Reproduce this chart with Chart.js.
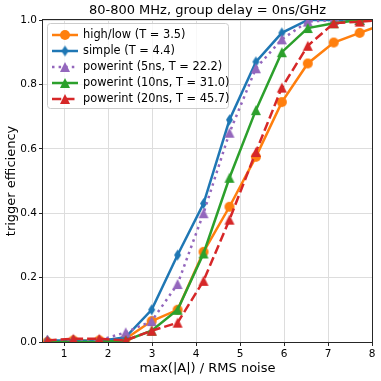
<!DOCTYPE html>
<html>
<head>
<meta charset="utf-8">
<script src="https://cdn.jsdelivr.net/npm/chart.js@4"></script>
<style>
  html, body { margin: 0; padding: 0; background: #fff; }
  #mainContentDivId { width: 381px; height: 381px; }
</style>
</head>
<body>
<div id="mainContentDivId"><canvas id="chartCanvasId" width="381" height="381"></canvas></div>
<script>
// x positions of the measurements (last one lies past the axis end)
const xValues = [0.62, 1.21, 1.80, 2.40, 2.99, 3.58, 4.17, 4.76, 5.36, 5.95, 6.54, 7.13, 7.72, 8.31];

const highLowValues    = [0.0, 0.005, 0.005, 0.01, 0.065, 0.10, 0.28, 0.42, 0.575, 0.745, 0.865, 0.93, 0.96, 0.99];
const simpleValues     = [0.005, 0.005, 0.003, 0.015, 0.10, 0.27, 0.43, 0.69, 0.87, 0.96, 1.0, 1.0, 1.0, 1.0];
const powerint5Values  = [0.005, 0.005, 0.005, 0.03, 0.065, 0.18, 0.40, 0.65, 0.85, 0.94, 0.995, 1.0, 1.0, 1.0];
const powerint10Values = [0.0, 0.0, 0.0, 0.005, 0.035, 0.10, 0.275, 0.51, 0.72, 0.90, 0.975, 0.99, 1.0, 1.0];
const powerint20Values = [0.005, 0.01, 0.01, 0.005, 0.035, 0.06, 0.19, 0.38, 0.59, 0.79, 0.92, 0.99, 0.995, 1.0];

const seriesLabels = [
    "high/low (T = 3.5)",
    "simple (T = 4.4)",
    "powerint (5ns, T = 22.2)",
    "powerint (10ns, T = 31.0)",
    "powerint (20ns, T = 45.7)"
];
const xTickValues = [1, 2, 3, 4, 5, 6, 7, 8];
const yTickValues = [0, 0.2, 0.4, 0.6, 0.8, 1.0];
const chartTitle = "80-800 MHz, group delay = 0ns/GHz";

const FONT = "'DejaVu Sans', sans-serif";

window.addEventListener("DOMContentLoaded", init);

function makeMarker(shape, color, w, h) {
    const c = document.createElement("canvas");
    c.width = w + 2;
    c.height = h + 2;
    const ctx = c.getContext("2d");
    const cx = c.width / 2, cy = c.height / 2;
    ctx.fillStyle = color;
    ctx.beginPath();
    if (shape === "circle") {
        ctx.arc(cx, cy, w / 2, 0, Math.PI * 2);
    } else if (shape === "diamond") {
        ctx.moveTo(cx, cy - h / 2);
        ctx.lineTo(cx + w / 2, cy);
        ctx.lineTo(cx, cy + h / 2);
        ctx.lineTo(cx - w / 2, cy);
    } else {
        ctx.moveTo(cx, cy - h / 2);
        ctx.lineTo(cx + w / 2, cy + h / 2);
        ctx.lineTo(cx - w / 2, cy + h / 2);
    }
    ctx.closePath();
    ctx.fill();
    return c;
}

function toPoints(values) {
    return xValues.map((x, i) => ({ x: x, y: values[i] }));
}

function init() {
    const chartCanvas = document.getElementById("chartCanvasId");

    const styles = [
        { color: "#ff7f0e", marker: makeMarker("circle", "#ff7f0e", 10, 10), dash: [] },
        { color: "#1f77b4", marker: makeMarker("diamond", "#1f77b4", 7, 11), dash: [] },
        { color: "#9467bd", marker: makeMarker("triangle", "#9467bd", 10, 10), dash: [2.5, 4.1] },
        { color: "#2ca02c", marker: makeMarker("triangle", "#2ca02c", 10, 10), dash: [] },
        { color: "#d62728", marker: makeMarker("triangle", "#d62728", 10, 10), dash: [9.25, 4] }
    ];
    const allValues = [highLowValues, simpleValues, powerint5Values, powerint10Values, powerint20Values];

    const datasets = allValues.map((vals, i) => ({
        label: seriesLabels[i],
        data: toPoints(vals),
        borderColor: styles[i].color,
        backgroundColor: styles[i].color,
        borderWidth: 2.5,
        borderDash: styles[i].dash,
        borderCapStyle: "butt",
        pointStyle: styles[i].marker,
        pointRadius: 5,
        pointHoverRadius: 5,
        tension: 0,
        clip: 0,
        order: allValues.length - i
    }));

    // spines + title centred over the axes, like matplotlib
    const framePlugin = {
        id: "frame",
        afterDatasetsDraw(chart) {
            const a = chart.chartArea;
            const ctx = chart.ctx;
            ctx.save();
            ctx.strokeStyle = "#262626";
            ctx.lineWidth = 1;
            ctx.strokeRect(Math.round(a.left) - 0.5, Math.round(a.top) - 0.5,
                Math.round(a.right - a.left) + 1, Math.round(a.bottom - a.top) + 1);
            ctx.fillStyle = "#000";
            ctx.font = "13px " + FONT;
            ctx.textAlign = "center";
            ctx.textBaseline = "middle";
            ctx.fillText(chartTitle, (a.left + a.right) / 2, 11);
            ctx.restore();
        }
    };

    const legendPlugin = {
        id: "mplLegend",
        afterDraw(chart) {
            const ctx = chart.ctx;
            ctx.save();
            ctx.beginPath();
            ctx.roundRect(47.5, 23.5, 181, 85, 3);
            ctx.fillStyle = "rgba(255,255,255,0.8)";
            ctx.fill();
            ctx.strokeStyle = "#cccccc";
            ctx.lineWidth = 1;
            ctx.stroke();
            ctx.font = "11.4px " + FONT;
            ctx.textBaseline = "middle";
            ctx.textAlign = "left";
            seriesLabels.forEach((label, i) => {
                const y = 35 + 16 * i;
                ctx.beginPath();
                ctx.setLineDash(styles[i].dash);
                ctx.strokeStyle = styles[i].color;
                ctx.lineWidth = 2.5;
                ctx.moveTo(52, y);
                ctx.lineTo(78, y);
                ctx.stroke();
                ctx.setLineDash([]);
                const m = styles[i].marker;
                ctx.drawImage(m, 65 - m.width / 2, y - m.height / 2);
                ctx.fillStyle = "#000";
                ctx.fillText(label, 83, y + 0.5);
            });
            ctx.restore();
        }
    };

    new Chart(chartCanvas, {
        type: "line",
        data: { datasets: datasets },
        plugins: [framePlugin, legendPlugin],
        options: {
            responsive: false,
            animation: false,
            devicePixelRatio: 1,
            layout: { padding: { top: 20, right: 9, left: 0, bottom: 0 } },
            plugins: {
                legend: { display: false },
                tooltip: { enabled: false },
                title: { display: false }
            },
            scales: {
                x: {
                    type: "linear",
                    min: 0.52,
                    max: 8,
                    afterBuildTicks: (scale) => { scale.ticks = xTickValues.map(v => ({ value: v })); },
                    afterFit: (scale) => { scale.height = 39; },
                    ticks: {
                        color: "#000",
                        font: { family: FONT, size: 10.5 },
                        padding: 2,
                        maxRotation: 0,
                        callback: (v) => String(v)
                    },
                    grid: { color: "#dddddd", lineWidth: 1, tickLength: 4, tickColor: "#262626" },
                    border: { display: false },
                    title: {
                        display: true,
                        text: "max(|A|) / RMS noise",
                        color: "#000",
                        font: { family: FONT, size: 13 },
                        padding: { top: 0, bottom: 5 }
                    }
                },
                y: {
                    min: 0,
                    max: 1,
                    afterBuildTicks: (scale) => { scale.ticks = yTickValues.map(v => ({ value: v })); },
                    afterFit: (scale) => { scale.width = 43; },
                    ticks: {
                        color: "#000",
                        font: { family: FONT, size: 10.5 },
                        padding: 2,
                        callback: (v) => Number(v).toFixed(1)
                    },
                    grid: { color: "#dddddd", lineWidth: 1, tickLength: 4, tickColor: "#262626" },
                    border: { display: false },
                    title: {
                        display: true,
                        text: "trigger efficiency",
                        color: "#000",
                        font: { family: FONT, size: 13 },
                        padding: { top: 4, bottom: 0 }
                    }
                }
            }
        }
    });
}
</script>
</body>
</html>
